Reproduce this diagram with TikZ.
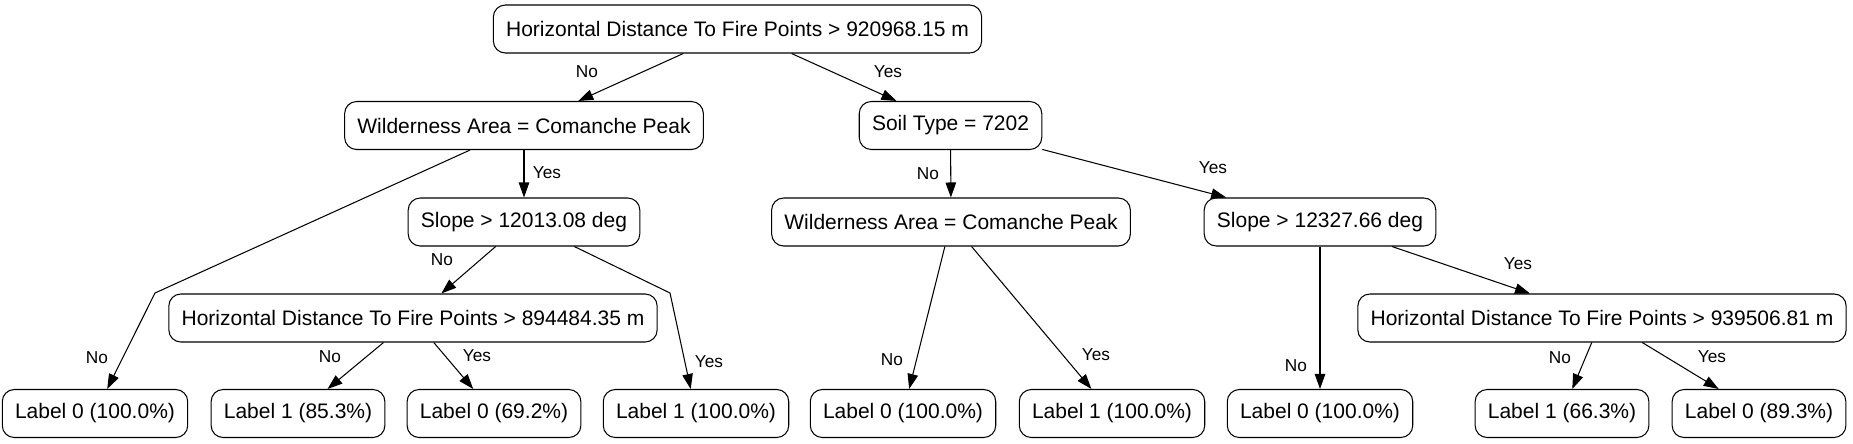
\documentclass[tikz,border=0pt]{standalone}
\usepackage{fontspec}
\setmainfont{Liberation Sans}
\usepackage{tikz}
\usetikzlibrary{arrows.meta}

\begin{document}
\begin{tikzpicture}[x=0.6667pt,y=-0.6667pt,>={Triangle[length=10pt,width=7pt]},
  test/.style={draw,line width=0.7pt,rounded corners=8pt,minimum height=32pt,inner xsep=8.5pt,font=\fontsize{14}{16}\selectfont},
  lbl/.style={inner sep=0pt,font=\fontsize{11.5}{13}\selectfont},
  edge/.style={->,line width=0.7pt}]
\useasboundingbox (0,0) rectangle (1853,443);
%%% tests
\node[test](root) at (737.5,29){Horizontal Distance To Fire Points > 920968.15 m};
\node[test](wild1) at (524,125.5){Wilderness Area = Comanche Peak};
\node[test](soil) at (950.5,125.5){Soil Type = 7202};
\node[test](slope1) at (524,222){Slope > 12013.08 deg};
\node[test](wild2) at (951,222){Wilderness Area = Comanche Peak};
\node[test](slope2) at (1320,222){Slope > 12327.66 deg};
\node[test](hd2) at (413,318){Horizontal Distance To Fire Points > 894484.35 m};
\node[test](hd3) at (1602,318){Horizontal Distance To Fire Points > 939506.81 m};
%%% leaves
\node[test](leaf1) at (95,413.5){Label 0 (100.0\%)};
\node[test](leaf2) at (298,413.5){Label 1 (85.3\%)};
\node[test](leaf3) at (494,413.5){Label 0 (69.2\%)};
\node[test](leaf4) at (696,413.5){Label 1 (100.0\%)};
\node[test](leaf5) at (903,413.5){Label 0 (100.0\%)};
\node[test](leaf6) at (1112,413.5){Label 1 (100.0\%)};
\node[test](leaf7) at (1320,413.5){Label 0 (100.0\%)};
\node[test](leaf8) at (1562,413.5){Label 1 (66.3\%)};
\node[test](leaf9) at (1759,413.5){Label 0 (89.3\%)};
\coordinate(bend1) at (155,293);
\coordinate(bend2) at (670,293);
%%% edges
\draw[edge](root)--(wild1);
\draw[edge](root)--(soil);
\draw[edge](wild1)--(bend1)--(leaf1);
\draw[edge](wild1)--(slope1);
\draw[edge](slope1)--(hd2);
\draw[edge](slope1)--(bend2)--(leaf4);
\draw[edge](hd2)--(leaf2);
\draw[edge](hd2)--(leaf3);
\draw[edge](soil)--(wild2);
\draw[edge](soil)--(slope2);
\draw[edge](wild2)--(leaf5);
\draw[edge](wild2)--(leaf6);
\draw[edge](slope2)--(leaf7);
\draw[edge](slope2)--(hd3);
\draw[edge](hd3)--(leaf8);
\draw[edge](hd3)--(leaf9);
%%% labels
\node[lbl](n1) at (587,72){No};
\node[lbl](y1) at (888,72){Yes};
\node[lbl](y2) at (547,173){Yes};
\node[lbl](n2) at (97,358){No};
\node[lbl](n3) at (442,260){No};
\node[lbl](y3) at (709,362){Yes};
\node[lbl](n4) at (330,357){No};
\node[lbl](y4) at (477,356){Yes};
\node[lbl](n5) at (928,174){No};
\node[lbl](y5) at (1213,168){Yes};
\node[lbl](n6) at (892,360){No};
\node[lbl](y6) at (1096,355){Yes};
\node[lbl](n7) at (1296,366){No};
\node[lbl](y7) at (1518,264){Yes};
\node[lbl](n8) at (1560,358){No};
\node[lbl](y8) at (1712,357){Yes};
\end{tikzpicture}
\end{document}
